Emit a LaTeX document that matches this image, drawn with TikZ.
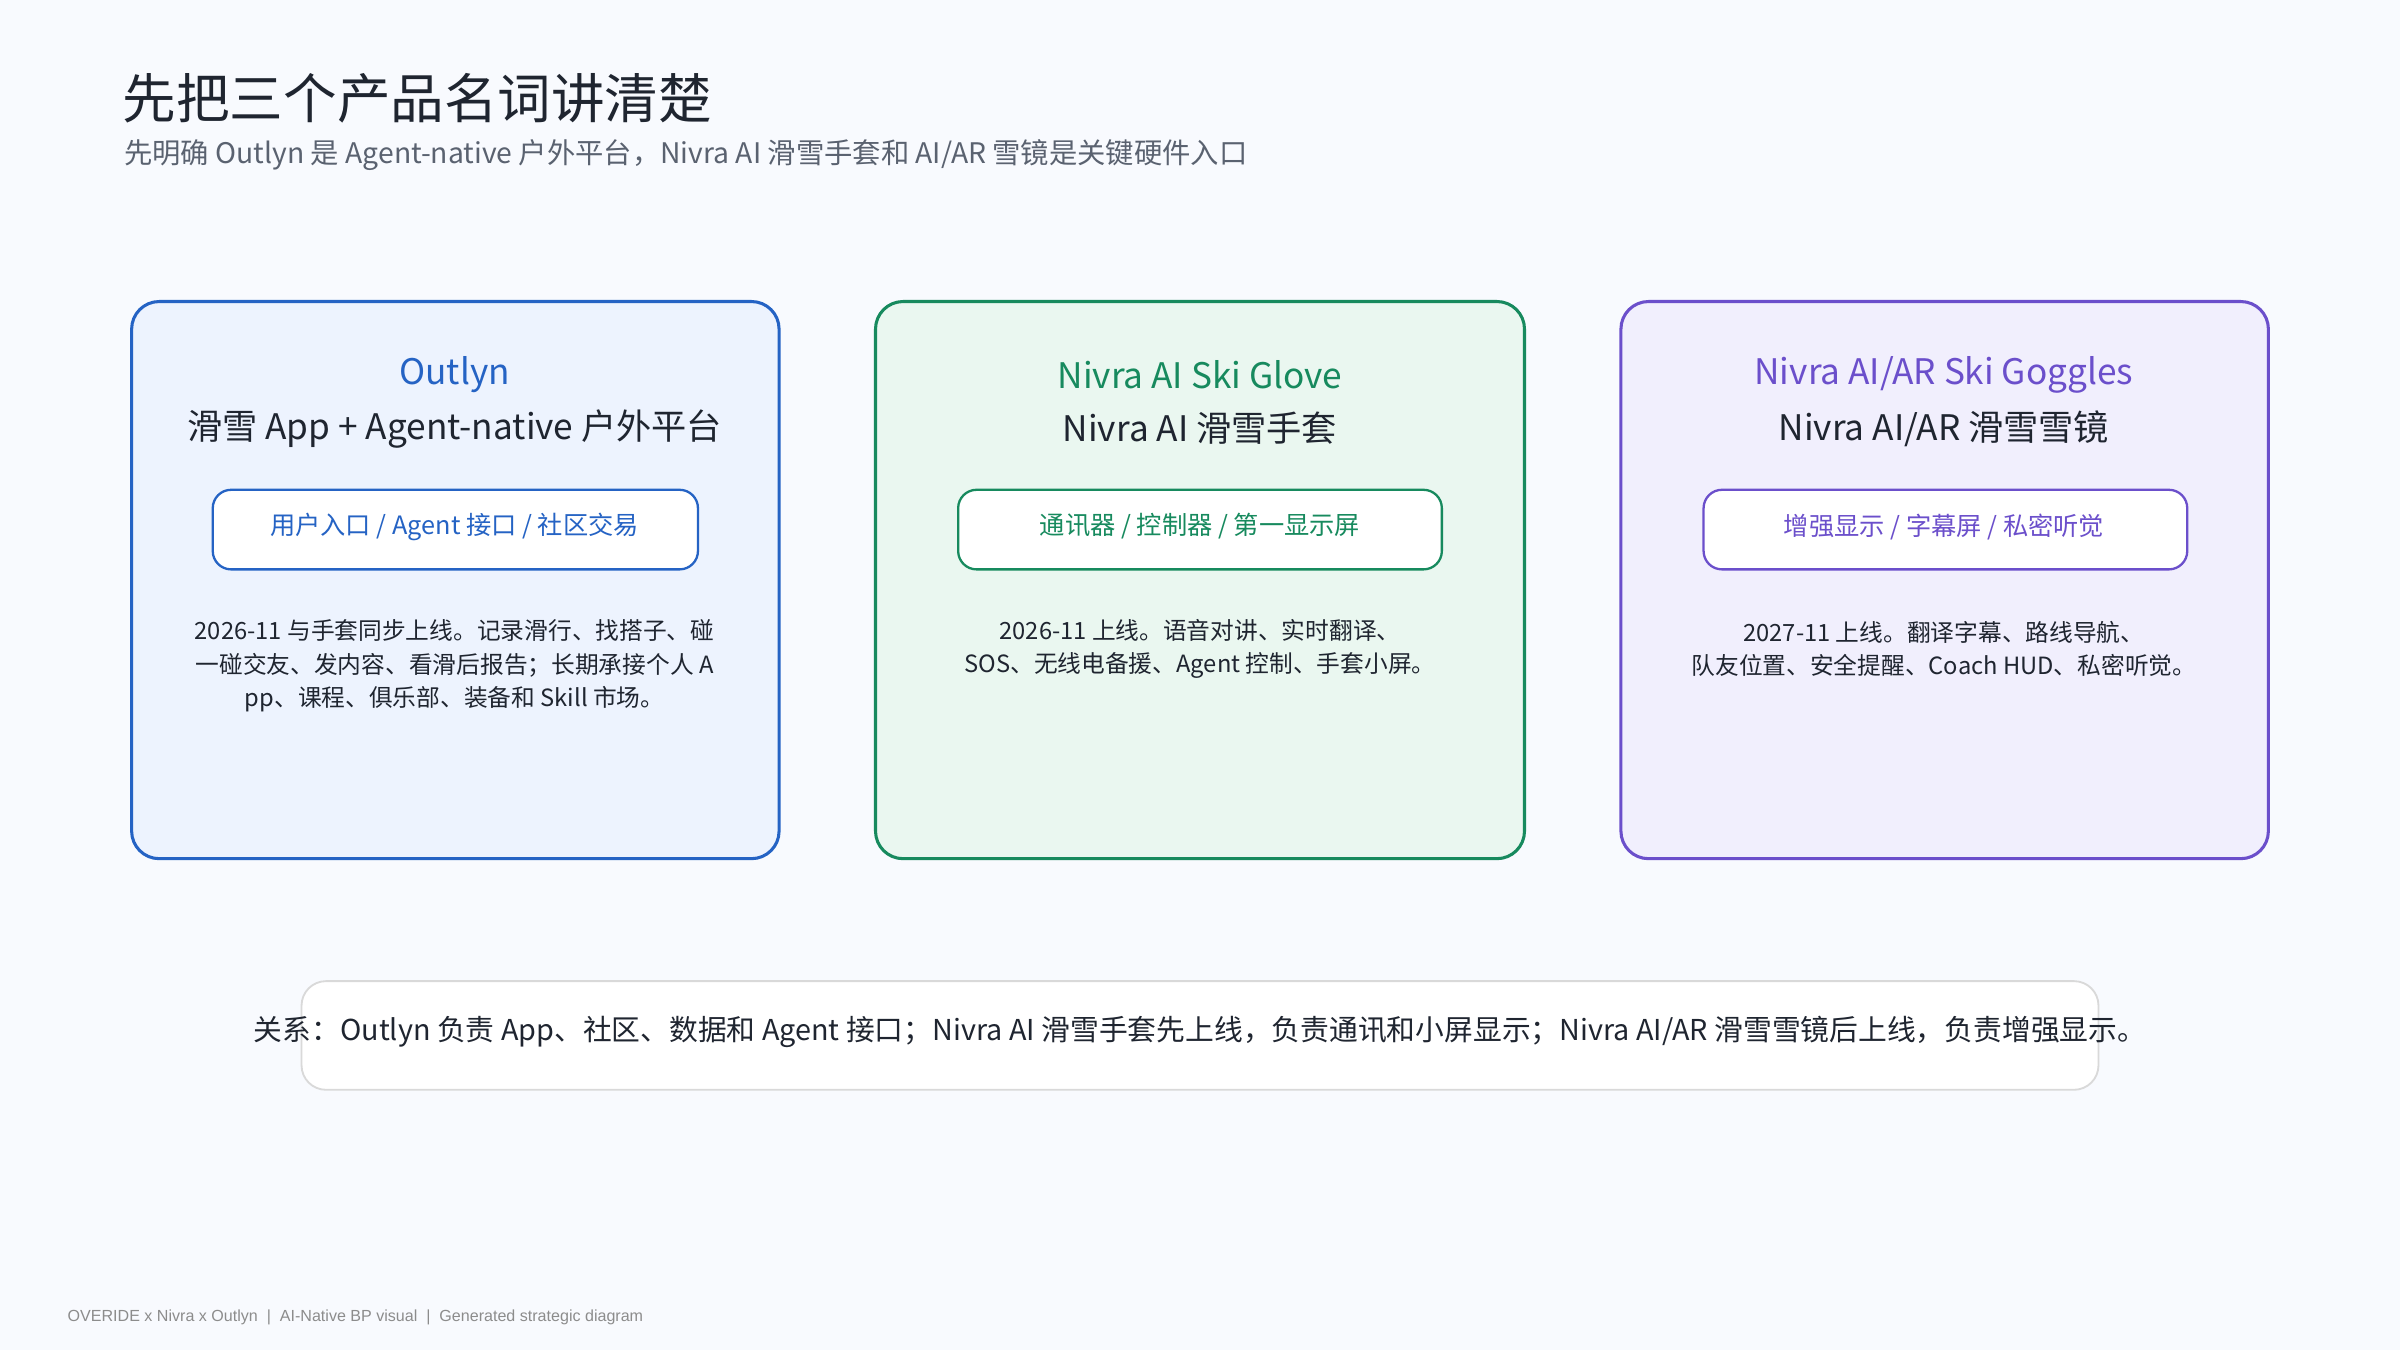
\documentclass[tikz,border=0pt]{standalone}
\usepackage{fontspec}
\setmainfont{Noto Sans CJK SC}
\newfontfamily\footfont{Liberation Sans}
\definecolor{bg}{HTML}{F8FAFE}
\definecolor{cb}{HTML}{2563C4}\definecolor{fb}{HTML}{EDF3FE}
\definecolor{cg}{HTML}{178A5E}\definecolor{fg}{HTML}{EAF7F0}
\definecolor{cp}{HTML}{6B4FCB}\definecolor{fp}{HTML}{F1EFFD}
\definecolor{ink}{HTML}{1F2530}\definecolor{sub}{HTML}{5A6270}
\begin{document}
\begin{tikzpicture}[x=1pt,y=-1pt,
 card/.style={rounded corners=18pt,line width=2pt},
 pill/.style={rounded corners=12pt,line width=1.5pt,fill=white},
 ttl/.style={font=\fontsize{23}{27}\selectfont},
 stl/.style={font=\fontsize{23}{27}\selectfont,text=ink},
 ptx/.style={font=\fontsize{16.5}{20}\selectfont},
 dsc/.style={font=\fontsize{15.5}{22}\selectfont,text=ink,align=center}]
\fill[bg] (0,0) rectangle (1568,882);
\node[anchor=west,inner sep=0pt,font=\fontsize{35}{40}\selectfont,text=ink] (title) at (80,64) {先把三个产品名词讲清楚};
\node[anchor=west,inner sep=0pt,font=\fontsize{18.5}{22}\selectfont,text=sub] (subt) at (81,101) {先明确 Outlyn 是 Agent-native 户外平台，Nivra AI 滑雪手套和 AI/AR 雪镜是关键硬件入口};
% card 1
\draw[card,draw=cb,fill=fb] (86,197) rectangle (509,561);
\node[ttl,text=cb] (t1) at (297,245) {Outlyn};
\node[stl] (s1) at (297,280) {滑雪 App + Agent-native 户外平台};
\draw[pill,draw=cb] (139,320) rectangle (456,372);
\node[ptx,text=cb] (p1) at (297,344) {用户入口 / Agent 接口 / 社区交易};
\node[dsc] (d1) at (297,435) {2026-11 与手套同步上线。记录滑行、找搭子、碰\\一碰交友、发内容、看滑后报告；长期承接个人 A\\pp、课程、俱乐部、装备和 Skill 市场。};
% card 2
\draw[card,draw=cg,fill=fg] (572,197) rectangle (996,561);
\node[ttl,text=cg] (t2) at (784,245) {Nivra AI Ski Glove};
\node[stl] (s2) at (784,280) {Nivra AI 滑雪手套};
\draw[pill,draw=cg] (626,320) rectangle (942,372);
\node[ptx,text=cg] (p2) at (784,344) {通讯器 / 控制器 / 第一显示屏};
\node[dsc] (d2) at (784,424) {2026-11 上线。语音对讲、实时翻译、\\SOS、无线电备援、Agent 控制、手套小屏。};
% card 3
\draw[card,draw=cp,fill=fp] (1059,197) rectangle (1482,561);
\node[ttl,text=cp] (t3) at (1270,245) {Nivra AI/AR Ski Goggles};
\node[stl] (s3) at (1270,280) {Nivra AI/AR 滑雪雪镜};
\draw[pill,draw=cp] (1113,320) rectangle (1429,372);
\node[ptx,text=cp] (p3) at (1270,344) {增强显示 / 字幕屏 / 私密听觉};
\node[dsc] (d3) at (1270,424) {2027-11 上线。翻译字幕、路线导航、\\队友位置、安全提醒、Coach HUD、私密听觉。};
% bottom
\draw[rounded corners=16pt,line width=1.2pt,draw=black!15,fill=white] (197,641) rectangle (1371,712);
\node[font=\fontsize{18.8}{22}\selectfont,text=ink] (rel) at (784,674) {关系：Outlyn 负责 App、社区、数据和 Agent 接口；Nivra AI 滑雪手套先上线，负责通讯和小屏显示；Nivra AI/AR 滑雪雪镜后上线，负责增强显示。};
\node[anchor=west,inner sep=0pt,font=\footfont\fontsize{10.5}{12}\selectfont,text=black!45] (foot) at (44,861) {OVERIDE x Nivra x Outlyn \ | \ AI-Native BP visual \ | \ Generated strategic diagram};
\end{tikzpicture}
\end{document}
